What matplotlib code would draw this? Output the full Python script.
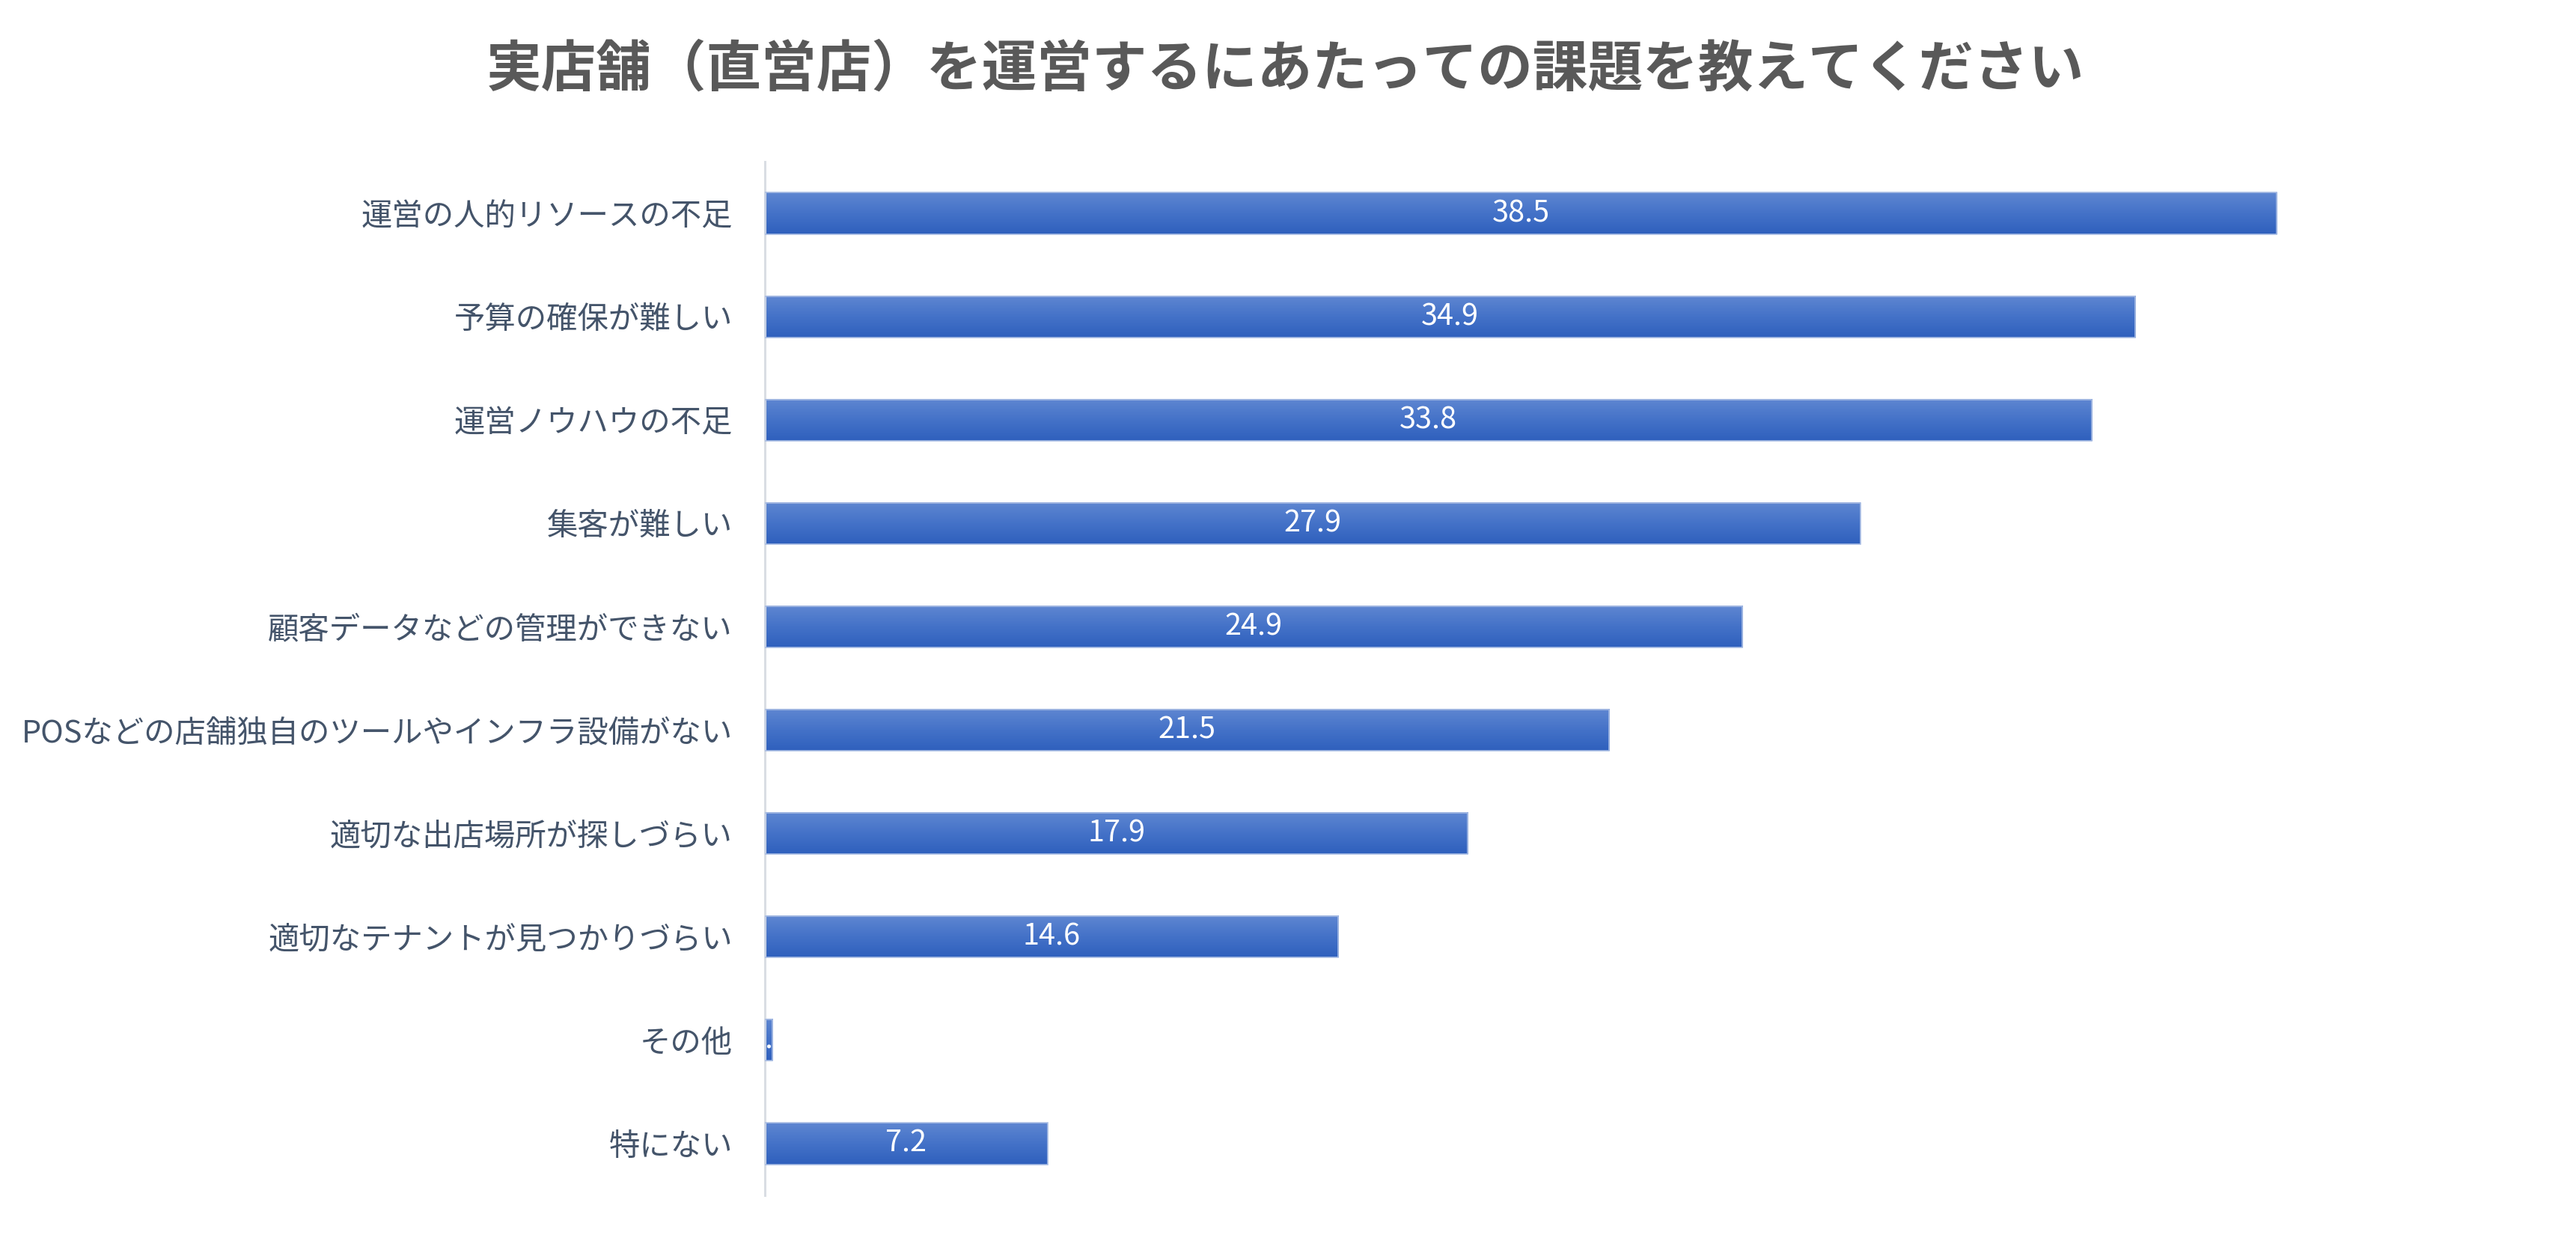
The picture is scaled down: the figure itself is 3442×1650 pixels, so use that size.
import matplotlib
matplotlib.use("Agg")
import matplotlib.pyplot as plt
import numpy as np
from matplotlib.colors import LinearSegmentedColormap

plt.rcParams['font.family'] = ['Noto Sans CJK JP', 'DejaVu Sans']

title = "実店舗（直営店）を運営するにあたっての課題を教えてください"
categories = [
    "運営の人的リソースの不足",
    "予算の確保が難しい",
    "運営ノウハウの不足",
    "集客が難しい",
    "顧客データなどの管理ができない",
    "POSなどの店舗独自のツールやインフラ設備がない",
    "適切な出店場所が探しづらい",
    "適切なテナントが見つかりづらい",
    "その他",
    "特にない",
]
values = [38.5, 34.9, 33.8, 27.9, 24.9, 21.5, 17.9, 14.6, 0.2, 7.2]

fig = plt.figure(figsize=(34.42, 16.5), dpi=100)
ax = fig.add_axes([0.2969, 0.0321, 0.686, 0.837])

y = np.arange(len(categories))
bars = ax.barh(y, values, height=0.4, facecolor='none', edgecolor='#A9BDE4',
               linewidth=1.2, zorder=3)

cmap = LinearSegmentedColormap.from_list('g', ['#5E86D1', '#4472C8', '#2F60BD'])
grad = np.linspace(0, 1, 64).reshape(-1, 1)
for b, v in zip(bars, values):
    x0 = b.get_x()
    x1 = x0 + b.get_width()
    y0 = b.get_y()
    y1 = y0 + b.get_height()
    ax.imshow(grad, extent=[x0, x1, y1, y0], origin='upper', aspect='auto',
              cmap=cmap, zorder=2, interpolation='bilinear')
    t = ax.text((x0 + x1) / 2, (y0 + y1) / 2, f"{v:.1f}", ha='center', va='center',
                color='white', fontsize=28.5, zorder=4)
    t.set_clip_path(b)

ax.set_xlim(0, 45)
ax.set_ylim(len(categories) - 0.5, -0.5)
ax.set_yticks(y)
ax.set_yticklabels(categories, fontsize=29.8, color='#44546A')
ax.tick_params(axis='y', length=0, pad=31)
ax.set_xticks([])
for s in ['top', 'right', 'bottom']:
    ax.spines[s].set_visible(False)
ax.spines['left'].set_color('#D9DDE3')
ax.spines['left'].set_linewidth(2.2)

fig.text(0.499, 1 - 93 / 1650, title, ha='center', va='center', fontsize=53,
         fontweight='bold', color='#595959')

fig.savefig('out.png', dpi=100, facecolor='white')
